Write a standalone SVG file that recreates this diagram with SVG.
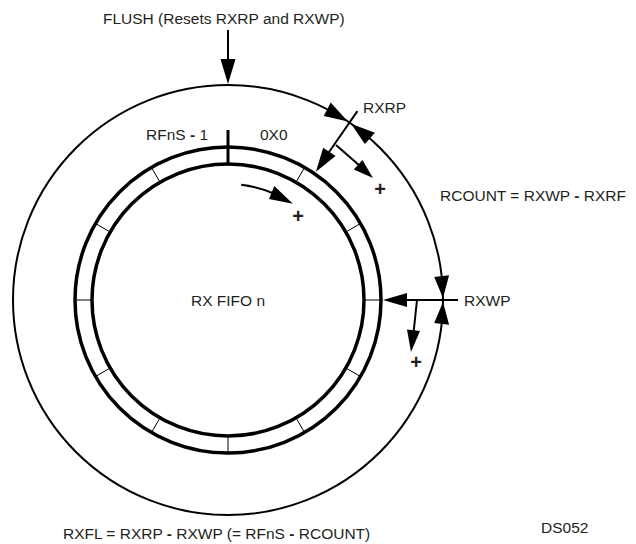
<svg xmlns="http://www.w3.org/2000/svg" width="636" height="544" viewBox="0 0 636 544">
<style>
  text { font-family: "Liberation Sans", Arial, sans-serif; font-size: 15.5px; fill: #231f20; }
  .plus { font-weight: bold; font-size: 20px; text-anchor: middle; }
  .d { font-weight: bold; }
  .ring { fill: none; stroke: #000; stroke-width: 3.5; }
  .big { fill: none; stroke: #000; stroke-width: 2; }
  .tick { stroke: #000; stroke-width: 1; }
  .ln { stroke: #000; stroke-width: 2; fill: none; }
  .ah { fill: #000; stroke: none; }
</style>
<rect width="636" height="544" fill="#fff"/>

<g id="fifo">
  <circle class="ring" cx="228" cy="300" r="153"/>
  <circle class="ring" cx="228" cy="300" r="136"/>
  <line x1="228" y1="130" x2="228" y2="164" stroke="#000" stroke-width="3"/>
  <g class="tick">
    <line x1="296" y1="182.2" x2="304.5" y2="167.5"/>
    <line x1="345.8" y1="232" x2="360.5" y2="223.5"/>
    <line x1="364" y1="300" x2="381" y2="300"/>
    <line x1="345.8" y1="368" x2="360.5" y2="376.5"/>
    <line x1="296" y1="417.8" x2="304.5" y2="432.5"/>
    <line x1="228" y1="436" x2="228" y2="453"/>
    <line x1="160" y1="417.8" x2="151.5" y2="432.5"/>
    <line x1="110.2" y1="368" x2="95.5" y2="376.5"/>
    <line x1="92" y1="300" x2="75" y2="300"/>
    <line x1="110.2" y1="232" x2="95.5" y2="223.5"/>
    <line x1="160" y1="182.2" x2="151.5" y2="167.5"/>
  </g>
  <text x="228" y="306" text-anchor="middle">RX FIFO n</text>
  <text x="146" y="140">RFnS <tspan class="d">-</tspan> 1</text>
  <text x="260" y="140">0X0</text>
</g>

<g id="flush">
  <text x="103" y="24" font-size="16">FLUSH (Resets RXRP and RXWP)</text>
</g>

<g id="rxrp">
  <text x="363" y="113">RXRP</text>
</g>

<g id="rxwp">
  <text x="464" y="306">RXWP</text>
</g>

<g id="labels">
  <text x="440" y="201">RCOUNT = RXWP <tspan class="d">-</tspan> RXRF</text>
  <text x="63" y="539" font-size="15">RXFL = RXRP <tspan class="d">-</tspan> RXWP (= RFnS <tspan class="d">-</tspan> RCOUNT)</text>
  <text x="541" y="533" font-size="14">DS052</text>
  <text class="plus" x="298" y="223">+</text>
  <text class="plus" x="380" y="196">+</text>
  <text class="plus" x="416" y="369">+</text>
</g>

<g id="connectors">
  <circle class="big" cx="228" cy="300" r="215"/>
  <!-- FLUSH arrow -->
  <line class="ln" x1="228" y1="30" x2="228" y2="62"/>
  <polygon class="ah" points="228,84 220.5,59 235.5,59"/>
  <!-- arc arrowheads at RXRP -->
  <polygon class="ah" points="347.9,121.5 323.8,115.9 330.7,102.6"/>
  <polygon class="ah" points="351,123.7 364.9,144.1 374.9,132.8"/>
  <!-- arc arrowheads at RXWP -->
  <polygon class="ah" points="443,298.1 434.2,276.9 449.1,275.2"/>
  <polygon class="ah" points="443,301.9 434.2,323.1 449.1,324.8"/>
  <!-- RXRP pointer -->
  <line class="ln" x1="357.4" y1="111.1" x2="327" y2="155"/>
  <polygon class="ah" points="315.9,171.7 335.6,156.1 323.2,147.7"/>
  <!-- RXRP + arrow -->
  <line class="ln" x1="336" y1="145" x2="360" y2="166"/>
  <polygon class="ah" points="373,178 353.8,169.6 362.4,159.9"/>
  <!-- RXWP pointer -->
  <line class="ln" x1="458" y1="300" x2="400" y2="300"/>
  <polygon class="ah" points="383,300 407,293 407,307"/>
  <!-- RXWP + arrow -->
  <line class="ln" x1="417" y1="300" x2="413.5" y2="333"/>
  <polygon class="ah" points="411,352 420,330.9 407,329.4"/>
  <!-- inner curved arrow -->
  <path class="ln" d="M241.1,184.7 A116,116 0 0 1 275,194"/>
  <polygon class="ah" points="292.9,203.8 269,199 274.3,186"/>
</g>
</svg>
